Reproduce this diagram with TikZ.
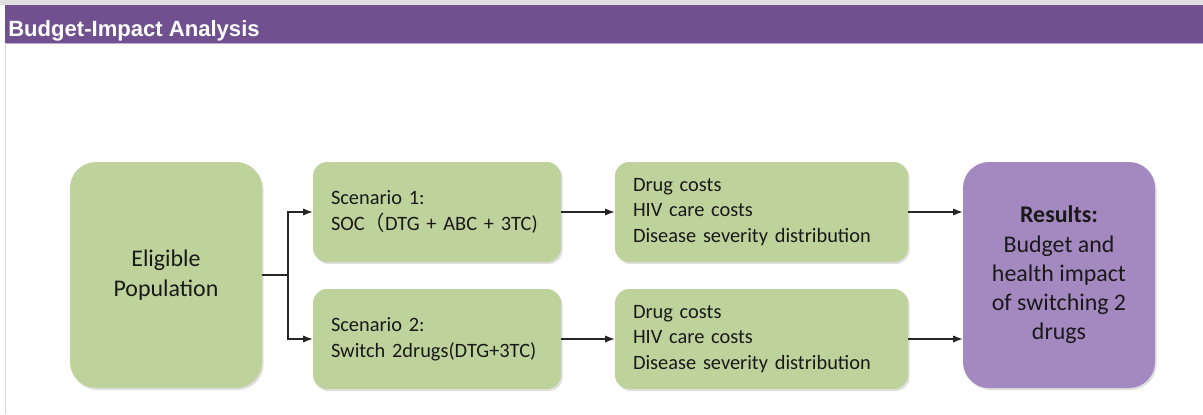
\documentclass[tikz,border=0pt]{standalone}
\usepackage{fontspec}
\setmainfont{Carlito}
\newfontfamily\headfont{Liberation Sans}
\newfontfamily\cjk{Noto Sans CJK SC}
\usetikzlibrary{arrows.meta,shadows}
\definecolor{barpurple}{RGB}{112,80,143}
\definecolor{boxgreen}{RGB}{190,211,155}
\definecolor{boxpurple}{RGB}{164,136,192}
\definecolor{txtdark}{RGB}{25,25,25}
\begin{document}
\begin{tikzpicture}
% Definição de estilos
\tikzset{
  popbox/.style={rectangle, rounded corners=0.65cm, fill=boxgreen, text=txtdark, align=center, minimum width=4.8cm, minimum height=5.65cm, font=\fontsize{17}{20.8}\selectfont, drop shadow={opacity=0.25, shadow xshift=0.04cm, shadow yshift=-0.05cm}},
  scenbox/.style={rectangle, rounded corners=0.35cm, fill=boxgreen, text=txtdark, align=left, inner xsep=0.45cm, text width=5.3cm, minimum height=2.5cm, font=\fontsize{14.5}{18.2}\selectfont, drop shadow={opacity=0.25, shadow xshift=0.04cm, shadow yshift=-0.05cm}},
  costbox/.style={scenbox, text width=6.425cm},
  resbox/.style={popbox, fill=boxpurple},
  arrow/.style={-{Latex[length=0.24cm,width=0.18cm]}, thick, black!85}
}
\useasboundingbox (0,0) rectangle (30.075,-10.35);

% Cabeçalho
\fill[black!12] (0,0) rectangle (30.075,-0.125);
\fill[barpurple] (0.125,-0.125) rectangle (30.075,-1.075);
\draw[boxpurple!70, line width=0.6pt] (0.125,-1.075) -- (30.075,-1.075);
\draw[black!15, line width=0.6pt] (0.125,-1.075) -- (0.125,-10.35);
\node[anchor=base west, inner sep=0, text=white, font=\headfont\bfseries\fontsize{15.7}{18}\selectfont] (titulo) at (0.2,-0.9) {Budget-Impact Analysis};

% Caixas
\node[popbox] (elig) at (4.15,-6.875) {Eligible\\Population};
\node[scenbox] (scen1) at (10.925,-5.3) {Scenario 1:\\SOC{\cjk（}DTG + ABC + 3TC)};
\node[scenbox] (scen2) at (10.925,-8.475) {Scenario 2:\\Switch 2drugs(DTG+3TC)};
\node[costbox] (cost1) at (19.0375,-5.3) {Drug costs\\HIV care costs\\Disease severity distribution};
\node[costbox] (cost2) at (19.0375,-8.475) {Drug costs\\HIV care costs\\Disease severity distribution};
\node[resbox] (res) at (26.475,-6.875) {\textbf{Results:}\\Budget and\\health impact\\of switching 2\\drugs};

% Setas
\coordinate (split) at (7.2,-6.875);
\draw[thick, black!85] (elig.east) -- (split);
\draw[arrow] (split) |- (scen1.west);
\draw[arrow] (split) |- (scen2.west);
\draw[arrow] (scen1) -- (cost1);
\draw[arrow] (scen2) -- (cost2);
\draw[arrow] (cost1.east) -- (cost1.east -| res.west);
\draw[arrow] (cost2.east) -- (cost2.east -| res.west);

\end{tikzpicture}
\end{document}
